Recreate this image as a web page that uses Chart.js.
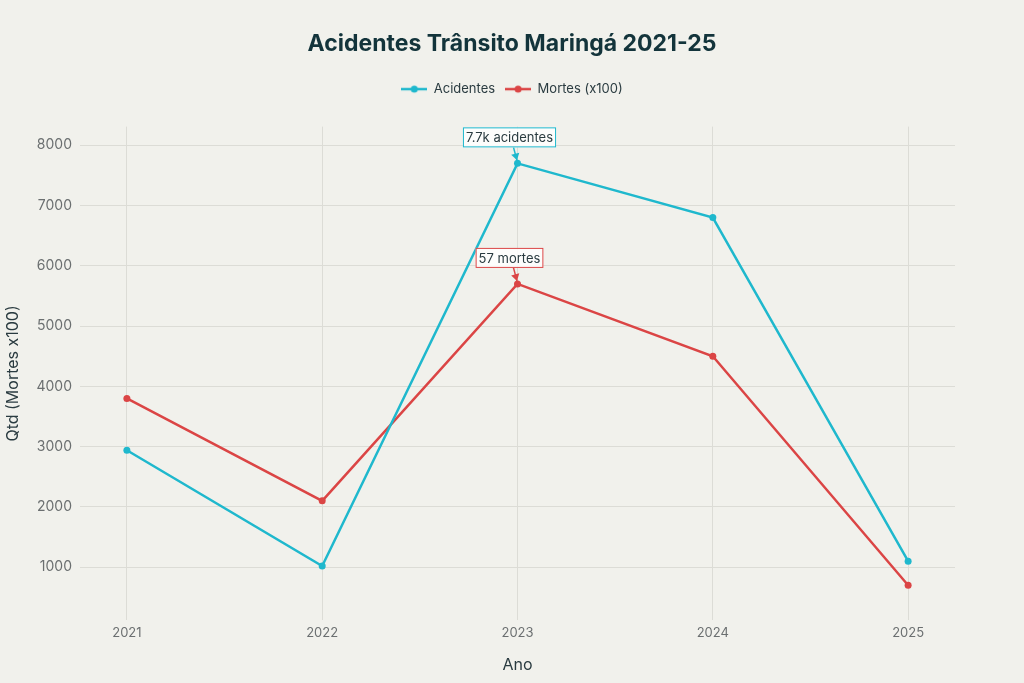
<!DOCTYPE html>
<html>
<head>
<meta charset="utf-8">
<script src="https://cdn.jsdelivr.net/npm/chart.js@4/dist/chart.umd.min.js"></script>
<style>
  html, body { margin: 0; padding: 0; background: #f1f1ec; }
  #wrap { width: 1024px; height: 683px; }
</style>
</head>
<body>
<div id="wrap"><canvas id="chart"></canvas></div>
<script>
var anos = [2021, 2022, 2023, 2024, 2025];
var acidentes = [2940, 1020, 7700, 6800, 1100];
var mortes = [3800, 2100, 5700, 4500, 700];
var yTicks = [1000, 2000, 3000, 4000, 5000, 6000, 7000, 8000];
var notas = [
    { serie: 0, idx: 2, texto: '7.7k acidentes' },
    { serie: 1, idx: 2, texto: '57 mortes' }
];

var corAcid = '#1fb8cd';
var corMort = '#db4545';
var fonte = 'Inter, "Open Sans", sans-serif';

function iconeLegenda(cor) {
    var c = document.createElement('canvas');
    c.width = 26; c.height = 10;
    var g = c.getContext('2d');
    g.strokeStyle = cor; g.lineWidth = 2.5;
    g.beginPath(); g.moveTo(0, 5); g.lineTo(26, 5); g.stroke();
    g.fillStyle = cor;
    g.beginPath(); g.arc(13, 5, 3.5, 0, Math.PI * 2); g.fill();
    return c;
}

var notasPlugin = {
    id: 'notas',
    afterDatasetsDraw: function(chart) {
        var ctx = chart.ctx;
        notas.forEach(function(n) {
            var pt = chart.getDatasetMeta(n.serie).data[n.idx];
            var cor = chart.data.datasets[n.serie].borderColor;
            var cx = pt.x - 8, cy = pt.y - 26;
            ctx.save();
            ctx.font = '13px ' + fonte;
            var w = ctx.measureText(n.texto).width + 6, h = 20;
            // seta
            var x0 = cx + 4, y0 = cy + h / 2;
            var x1 = pt.x - 0.5, y1 = pt.y - 3;
            ctx.strokeStyle = cor; ctx.fillStyle = cor; ctx.lineWidth = 1.5;
            ctx.beginPath(); ctx.moveTo(x0, y0); ctx.lineTo(x1, y1); ctx.stroke();
            var ang = Math.atan2(y1 - y0, x1 - x0);
            ctx.beginPath();
            ctx.moveTo(x1, y1);
            ctx.lineTo(x1 - 8 * Math.cos(ang - 0.55), y1 - 8 * Math.sin(ang - 0.55));
            ctx.lineTo(x1 - 8 * Math.cos(ang + 0.55), y1 - 8 * Math.sin(ang + 0.55));
            ctx.closePath(); ctx.fill();
            // caixa
            ctx.fillStyle = 'rgba(255,255,255,0.85)';
            ctx.fillRect(cx - w / 2, cy - h / 2, w, h);
            ctx.strokeStyle = cor; ctx.lineWidth = 1;
            ctx.strokeRect(cx - w / 2 + 0.5, cy - h / 2 + 0.5, w - 1, h - 1);
            ctx.fillStyle = '#2a3b40';
            ctx.textAlign = 'center'; ctx.textBaseline = 'middle';
            ctx.fillText(n.texto, cx, cy + 1);
            ctx.restore();
        });
    }
};

var fundoPlugin = {
    id: 'fundo',
    beforeInit: function(chart) {
        // espaço extra abaixo da legenda
        var fit = chart.legend.fit;
        chart.legend.fit = function() {
            fit.call(this);
            this.height += 21;
        };
    },
    beforeDraw: function(chart) {
        var ctx = chart.ctx;
        ctx.save();
        ctx.fillStyle = '#f1f1ec';
        ctx.fillRect(0, 0, chart.width, chart.height);
        ctx.restore();
    }
};

var ctx = document.getElementById('chart').getContext('2d');
var grafico = new Chart(ctx, {
    type: 'line',
    data: {
        datasets: [{
            label: 'Acidentes',
            data: anos.map(function(a, i) { return { x: a, y: acidentes[i] }; }),
            borderColor: corAcid,
            backgroundColor: corAcid,
            borderWidth: 2.5,
            pointRadius: 3.5,
            pointBorderWidth: 0,
            pointHoverRadius: 5
        }, {
            label: 'Mortes (x100)',
            data: anos.map(function(a, i) { return { x: a, y: mortes[i] }; }),
            borderColor: corMort,
            backgroundColor: corMort,
            borderWidth: 2.5,
            pointRadius: 3.5,
            pointBorderWidth: 0,
            pointHoverRadius: 5
        }]
    },
    options: {
        responsive: true,
        maintainAspectRatio: false,
        animation: false,
        layout: { padding: { top: 23, left: 0, right: 0, bottom: 4 } },
        plugins: {
            title: {
                display: true,
                text: 'Acidentes Trânsito Maringá 2021-25',
                color: '#13343b',
                font: { family: fonte, size: 23, weight: 'bold' },
                padding: { top: 7, bottom: 15 }
            },
            legend: {
                align: 'center',
                labels: {
                    color: '#2a3b40',
                    font: { family: fonte, size: 13 },
                    usePointStyle: true,
                    pointStyleWidth: 26,
                    padding: 10,
                    generateLabels: function(chart) {
                        return chart.data.datasets.map(function(ds, i) {
                            return {
                                text: ds.label,
                                fillStyle: ds.borderColor,
                                strokeStyle: ds.borderColor,
                                fontColor: '#2a3b40',
                                pointStyle: iconeLegenda(ds.borderColor),
                                datasetIndex: i,
                                hidden: !chart.isDatasetVisible(i)
                            };
                        });
                    }
                }
            },
            tooltip: { enabled: true }
        },
        scales: {
            x: {
                type: 'linear',
                min: 2020.76,
                max: 2025.24,
                border: { display: false },
                grid: { color: '#dcdcd6', drawTicks: false },
                ticks: {
                    stepSize: 1,
                    includeBounds: false,
                    padding: 5,
                    color: '#6b6f70',
                    font: { family: fonte, size: 13 },
                    callback: function(v) { return String(v); }
                },
                title: {
                    display: true,
                    text: 'Ano',
                    color: '#2a3b40',
                    font: { family: fonte, size: 16 },
                    padding: { top: 10, bottom: 4 }
                }
            },
            y: {
                min: 120,
                max: 8310,
                border: { display: false },
                grid: { color: '#dcdcd6', drawTicks: false },
                afterBuildTicks: function(scale) {
                    scale.ticks = yTicks.map(function(v) { return { value: v }; });
                },
                ticks: {
                    padding: 8,
                    color: '#6b6f70',
                    font: { family: fonte, size: 14 },
                    callback: function(v) { return String(v); }
                },
                title: {
                    display: true,
                    text: 'Qtd (Mortes x100)',
                    color: '#2a3b40',
                    font: { family: fonte, size: 16 },
                    padding: { bottom: 10 }
                },
                afterFit: function(scale) { scale.width = 80; }
            },
            margemDireita: {
                type: 'linear',
                position: 'right',
                display: true,
                grid: { display: false },
                border: { display: false },
                ticks: { display: false },
                afterFit: function(scale) { scale.width = 69; }
            }
        }
    },
    plugins: [fundoPlugin, notasPlugin]
});
</script>
</body>
</html>
